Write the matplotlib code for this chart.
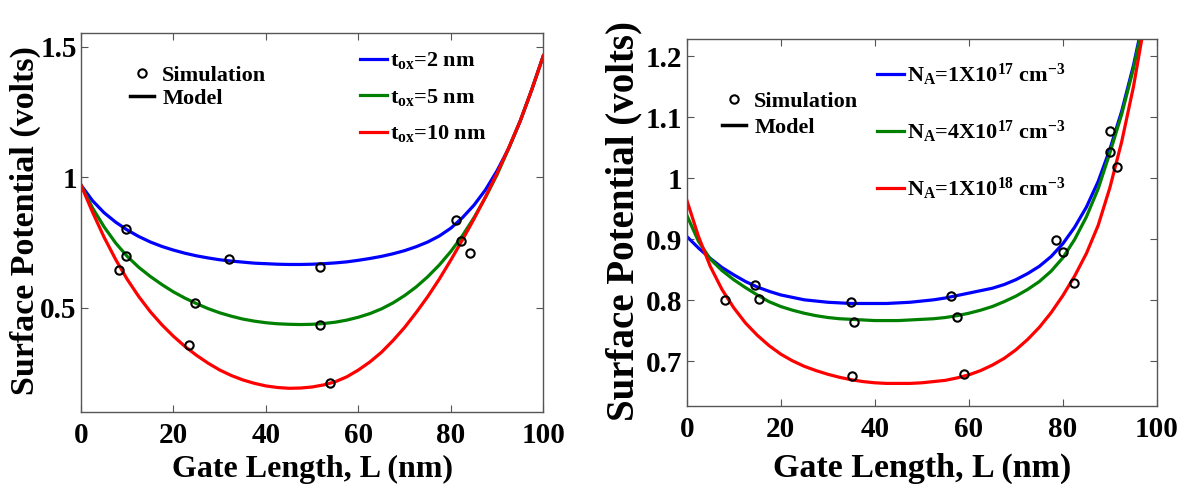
import numpy as np
import matplotlib
matplotlib.use('Agg')
import matplotlib.pyplot as plt
from matplotlib.lines import Line2D

#%% Data (gate length in nm, surface potential in volts)
L_left = [0, 2.5, 5, 7.5, 10, 12.5, 15, 17.5, 20, 22.5, 25, 27.5, 30, 32.5, 35, 37.5, 40, 42.5, 45, 47.5,
          50, 52.5, 55, 57.5, 60, 62.5, 65, 67.5, 70, 72.5, 75, 77.5, 80, 82.5, 85, 87.5, 90, 92.5, 95, 97.5, 100]
phi_tox2 = [0.970, 0.910, 0.864, 0.828, 0.798, 0.773, 0.752, 0.735, 0.721, 0.709, 0.699, 0.691, 0.684, 0.679,
            0.675, 0.671, 0.669, 0.667, 0.666, 0.666, 0.667, 0.669, 0.672, 0.676, 0.682, 0.689, 0.697, 0.707,
            0.719, 0.734, 0.752, 0.775, 0.805, 0.845, 0.893, 0.952, 1.025, 1.110, 1.215, 1.335, 1.465]
phi_tox5 = [0.970, 0.882, 0.810, 0.748, 0.697, 0.655, 0.620, 0.589, 0.561, 0.537, 0.516, 0.497, 0.481, 0.468,
            0.457, 0.449, 0.443, 0.439, 0.437, 0.436, 0.437, 0.440, 0.445, 0.453, 0.464, 0.478, 0.496, 0.519,
            0.547, 0.580, 0.619, 0.664, 0.716, 0.776, 0.845, 0.923, 1.010, 1.110, 1.215, 1.335, 1.465]
phi_tox10 = [0.970, 0.866, 0.770, 0.685, 0.609, 0.543, 0.485, 0.435, 0.391, 0.352, 0.318, 0.288, 0.262, 0.241,
             0.224, 0.211, 0.201, 0.195, 0.192, 0.193, 0.197, 0.205, 0.217, 0.236, 0.262, 0.293, 0.330, 0.375,
             0.425, 0.482, 0.543, 0.610, 0.683, 0.760, 0.840, 0.925, 1.015, 1.112, 1.215, 1.335, 1.465]
sim_L_left = [[9.7, 32, 51.8, 81.2], [9.8, 24.6, 51.8, 82.2], [8.3, 23.4, 53.8, 84.2]]
sim_phi_left = [[0.80, 0.686, 0.656, 0.836], [0.697, 0.519, 0.435, 0.755], [0.644, 0.358, 0.212, 0.711]]

L_right = [0, 2.5, 5, 7.5, 10, 12.5, 15, 17.5, 20, 22.5, 25, 27.5, 30, 32.5, 35, 37.5, 40, 42.5, 45, 47.5,
           50, 52.5, 55, 57.5, 60, 62.5, 65, 67.5, 70, 72.5, 75, 77.5, 80, 82.5, 85, 87.5, 90, 92.5, 95, 97.5]
phi_na1e17 = [0.905, 0.886, 0.869, 0.854, 0.842, 0.831, 0.822, 0.815, 0.809, 0.805, 0.801, 0.799, 0.797, 0.796,
              0.795, 0.795, 0.795, 0.795, 0.796, 0.797, 0.799, 0.801, 0.804, 0.808, 0.812, 0.816, 0.820, 0.826,
              0.834, 0.844, 0.856, 0.872, 0.893, 0.920, 0.953, 0.995, 1.048, 1.110, 1.185, 1.275]
phi_na4e17 = [0.940, 0.897, 0.868, 0.849, 0.834, 0.821, 0.809, 0.798, 0.790, 0.784, 0.779, 0.775, 0.772, 0.770,
              0.769, 0.768, 0.767, 0.767, 0.767, 0.768, 0.769, 0.770, 0.772, 0.775, 0.779, 0.784, 0.790, 0.798,
              0.807, 0.818, 0.831, 0.848, 0.870, 0.900, 0.937, 0.983, 1.042, 1.105, 1.180, 1.270]
phi_na1e18 = [0.965, 0.905, 0.856, 0.818, 0.788, 0.763, 0.743, 0.726, 0.712, 0.701, 0.692, 0.685, 0.679, 0.674,
              0.670, 0.667, 0.665, 0.664, 0.664, 0.664, 0.665, 0.667, 0.669, 0.673, 0.678, 0.685, 0.694, 0.705,
              0.719, 0.736, 0.756, 0.780, 0.808, 0.840, 0.877, 0.923, 0.985, 1.060, 1.150, 1.260]
sim_L_right = [[14.6, 35.0, 56.1, 78.6, 90.1], [15.3, 35.6, 57.4, 80.0, 90.0], [8.2, 35.1, 58.9, 82.4, 91.4]]
sim_phi_right = [[0.825, 0.798, 0.808, 0.899, 1.077], [0.803, 0.765, 0.773, 0.879, 1.044],
                 [0.80, 0.676, 0.679, 0.828, 1.019]]

labels_left = [r'$t_{ox}$=2 nm', r'$t_{ox}$=5 nm', r'$t_{ox}$=10 nm']
labels_right = [r'$N_A$=1X10$^{17}$ cm$^{-3}$', r'$N_A$=4X10$^{17}$ cm$^{-3}$', r'$N_A$=1X10$^{18}$ cm$^{-3}$']
colors = ['#0000ff', '#008000', '#ff0000']

#%% Style
plt.rcParams['font.family'] = 'serif'
plt.rcParams['font.serif'] = ['Liberation Serif', 'DejaVu Serif']
plt.rcParams['font.weight'] = 'bold'
plt.rcParams['axes.labelweight'] = 'bold'
plt.rcParams['mathtext.fontset'] = 'custom'
plt.rcParams['mathtext.rm'] = 'Liberation Serif:bold'
plt.rcParams['mathtext.it'] = 'Liberation Serif:bold'
plt.rcParams['mathtext.bf'] = 'Liberation Serif:bold'


def style_axes(ax, ylim, yticks, yticklabels):
    ax.set_xlim(0, 100)
    ax.set_ylim(ylim)
    ax.set_xticks([0, 20, 40, 60, 80, 100])
    ax.set_yticks(yticks)
    ax.set_yticklabels(yticklabels)
    ax.tick_params(direction='in', top=True, right=True, length=5, width=0.8,
                   color='#555555', labelsize=21)
    ax.tick_params(axis='x', pad=7)
    ax.tick_params(axis='y', pad=3)
    for sp in ax.spines.values():
        sp.set_color('#555555')
        sp.set_linewidth(1.0)


def add_legends(ax, curves, labels, sim_anchor, sim_spacing, col_anchor, col_spacing, col_fs):
    sim_handles = [Line2D([], [], ls='none', marker='o', mfc='none', mec='k', mew=1.5, ms=6),
                   Line2D([], [], color='k', lw=2.5)]
    leg1 = ax.legend(sim_handles, ['Simulation', 'Model'], loc='upper left', bbox_to_anchor=sim_anchor,
                     frameon=False, fontsize=16, handlelength=1.1, handletextpad=0.35,
                     labelspacing=sim_spacing, borderpad=0, borderaxespad=0, numpoints=1)
    ax.add_artist(leg1)
    ax.legend(curves, labels, loc='upper left', bbox_to_anchor=col_anchor, frameon=False,
              fontsize=col_fs, handlelength=1.2, handletextpad=0.15, labelspacing=col_spacing,
              borderpad=0, borderaxespad=0)


fig = plt.figure(figsize=(11.86, 4.84), dpi=100)
ax1 = fig.add_axes([0.0683, 0.1481, 0.3898, 0.7831])
ax2 = fig.add_axes([0.579, 0.1612, 0.3965, 0.7576])

#%% Left panel
curves = []
for phi, c in zip([phi_tox2, phi_tox5, phi_tox10], colors):
    ln, = ax1.plot(L_left, phi, color=c, lw=2.3)
    curves.append(ln)
for xs, ys in zip(sim_L_left, sim_phi_left):
    ax1.plot(xs, ys, ls='none', marker='o', mfc='none', mec='k', mew=1.5, ms=6)
style_axes(ax1, (0.1, 1.551), [0.5, 1, 1.5], ['0.5', '1', '1.5'])
ax1.set_xlabel('Gate Length, L (nm)', fontsize=23, labelpad=4)
ax1.set_ylabel('Surface Potential (volts)', fontsize=24.5)
ax1.yaxis.set_label_coords(-0.086, 0.505)
add_legends(ax1, curves, labels_left, (0.106, 0.915), 0.1, (0.6035, 0.955), 0.7, 16)

#%% Right panel
curves = []
for phi, c in zip([phi_na1e17, phi_na4e17, phi_na1e18], colors):
    ln, = ax2.plot(L_right, phi, color=c, lw=2.3)
    curves.append(ln)
for xs, ys in zip(sim_L_right, sim_phi_right):
    ax2.plot(xs, ys, ls='none', marker='o', mfc='none', mec='k', mew=1.5, ms=6)
style_axes(ax2, (0.627, 1.228), [0.7, 0.8, 0.9, 1.0, 1.1, 1.2],
           ['0.7', '0.8', '0.9', '1', '1.1', '1.2'])
ax2.set_xlabel('Gate Length, L (nm)', fontsize=24.5, labelpad=7)
ax2.set_ylabel('Surface Potential (volts)', fontsize=28)
ax2.yaxis.set_label_coords(-0.094, 0.504)
add_legends(ax2, curves, labels_right, (0.075, 0.859), 0.25, (0.405, 0.94), 1.4, 16)

fig.savefig('out.png', dpi=100)
